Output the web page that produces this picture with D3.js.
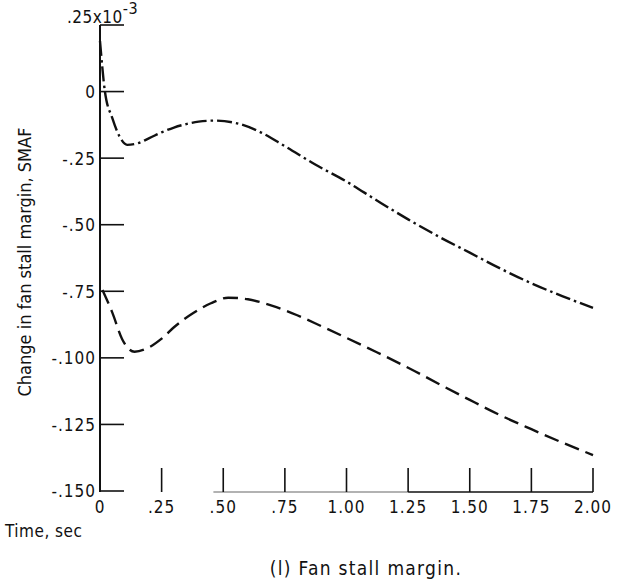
<!DOCTYPE html>
<html>
<head>
<meta charset="utf-8">
<script src="https://cdn.jsdelivr.net/npm/d3@7"></script>
<style>
  body { margin: 0; background: #fff; }
  svg text { font-family: "DejaVu Sans Condensed", "Liberation Sans Narrow", sans-serif; fill: #111; }
</style>
</head>
<body>
<div id="chart"></div>
<script>
// time axis, sec
const timeTicks = [0, 0.25, 0.5, 0.75, 1.0, 1.25, 1.5, 1.75, 2.0];
const timeLabels = ["0", ".25", ".50", ".75", "1.00", "1.25", "1.50", "1.75", "2.00"];

// SMAF axis, x10^-3
const smTicks = [0.25, 0, -0.25, -0.5, -0.75, -1.0, -1.25, -1.5];
const smLabels = ["", "0", "-.25", "-.50", "-.75", "-.100", "-.125", "-.150"];

// dash-dot curve
const upperTime = [0, 0.02, 0.05, 0.08, 0.11, 0.15, 0.2, 0.25, 0.3, 0.35, 0.4, 0.46, 0.55, 0.65, 0.75, 0.875, 1.0, 1.125, 1.25, 1.375, 1.5, 1.625, 1.75, 1.875, 2.0];
const upperSmaf = [0.19, 0.0, -0.10, -0.17, -0.20, -0.195, -0.175, -0.153, -0.135, -0.122, -0.113, -0.109, -0.118, -0.152, -0.205, -0.275, -0.338, -0.41, -0.48, -0.545, -0.605, -0.665, -0.72, -0.768, -0.812];

// dashed curve
const lowerTime = [0.01, 0.05, 0.09, 0.14, 0.2, 0.25, 0.3, 0.38, 0.45, 0.52, 0.6, 0.7, 0.8, 0.9, 1.0, 1.125, 1.25, 1.375, 1.5, 1.625, 1.75, 1.875, 2.0];
const lowerSmaf = [-0.745, -0.83, -0.93, -0.977, -0.96, -0.928, -0.885, -0.831, -0.795, -0.774, -0.78, -0.805, -0.84, -0.882, -0.925, -0.98, -1.037, -1.098, -1.158, -1.216, -1.268, -1.318, -1.365];

const width = 631, height = 585;

const svg = d3.select("#chart")
    .append("svg")
    .attr("width", width)
    .attr("height", height);

const x = d3.scaleLinear().domain([0, 2]).range([100, 593]);
const y = d3.scaleLinear().domain([-1.5, 0.25]).range([491, 25]);

// y axis line
svg.append("line")
    .attr("x1", x(0)).attr("x2", x(0))
    .attr("y1", y(0.25)).attr("y2", y(-1.5) + 1)
    .style("stroke", "#111").style("stroke-width", 2);

// y ticks
svg.selectAll(".ytick")
    .data(smTicks)
    .enter()
    .append("line")
    .attr("class", "ytick")
    .attr("x1", x(0)).attr("x2", x(0) + 24)
    .attr("y1", d => y(d)).attr("y2", d => y(d))
    .style("stroke", "#111").style("stroke-width", 1.6);

svg.selectAll(".ylab")
    .data(smTicks)
    .enter()
    .append("text")
    .attr("class", "ylab")
    .attr("x", x(0) - 4)
    .attr("y", d => y(d))
    .attr("dy", "0.38em")
    .attr("text-anchor", "end")
    .style("font-size", "17px")
    .style("letter-spacing", "1px")
    .text((d, i) => smLabels[i]);

// top label with exponent
const topLab = svg.append("text")
    .attr("x", 67)
    .attr("y", 23)
    .style("font-size", "17px")
    .style("letter-spacing", "0.5px");
topLab.append("tspan").text(".25x10");
topLab.append("tspan").attr("dy", -9).style("font-size", "16px").text("-3");

// x baseline (faint then solid, as printed)
svg.append("line")
    .attr("x1", x(0.46)).attr("x2", x(1.25))
    .attr("y1", y(-1.5) + 1).attr("y2", y(-1.5) + 1)
    .style("stroke", "#999").style("stroke-width", 1.5);
svg.append("line")
    .attr("x1", x(1.25)).attr("x2", x(2))
    .attr("y1", y(-1.5) + 1).attr("y2", y(-1.5) + 1)
    .style("stroke", "#111").style("stroke-width", 1.5);

// x ticks
svg.selectAll(".xtick")
    .data(timeTicks.slice(1))
    .enter()
    .append("line")
    .attr("class", "xtick")
    .attr("x1", d => x(d)).attr("x2", d => x(d))
    .attr("y1", y(-1.5) - 23).attr("y2", y(-1.5) + 1)
    .style("stroke", "#111").style("stroke-width", 1.6);

svg.selectAll(".xlab")
    .data(timeTicks)
    .enter()
    .append("text")
    .attr("class", "xlab")
    .attr("x", d => x(d))
    .attr("y", 513)
    .attr("text-anchor", "middle")
    .style("font-size", "17px")
    .style("letter-spacing", "1px")
    .text((d, i) => timeLabels[i]);

svg.append("text")
    .attr("x", 5)
    .attr("y", 537)
    .style("font-size", "17px")
    .style("letter-spacing", "0.5px")
    .text("Time, sec");

svg.append("text")
    .attr("transform", "translate(31, 262) rotate(-90)")
    .attr("text-anchor", "middle")
    .style("font-size", "18px")
    .text("Change in fan stall margin, SMAF");

svg.append("text")
    .attr("x", 366)
    .attr("y", 575)
    .attr("text-anchor", "middle")
    .style("font-size", "19px")
    .style("letter-spacing", "1.3px")
    .text("(l) Fan stall margin.");

// curves
const line = d3.line()
    .x(d => x(d[0]))
    .y(d => y(d[1]))
    .curve(d3.curveMonotoneX);

svg.append("path")
    .datum(upperTime.map((t, i) => [t, upperSmaf[i]]))
    .attr("d", line)
    .style("fill", "none")
    .style("stroke", "#111")
    .style("stroke-width", 2.4)
    .style("stroke-dasharray", "15,4,2.5,4");

svg.append("path")
    .datum(lowerTime.map((t, i) => [t, lowerSmaf[i]]))
    .attr("d", line)
    .style("fill", "none")
    .style("stroke", "#111")
    .style("stroke-width", 2.4)
    .style("stroke-dasharray", "15,7");
</script>
</body>
</html>
